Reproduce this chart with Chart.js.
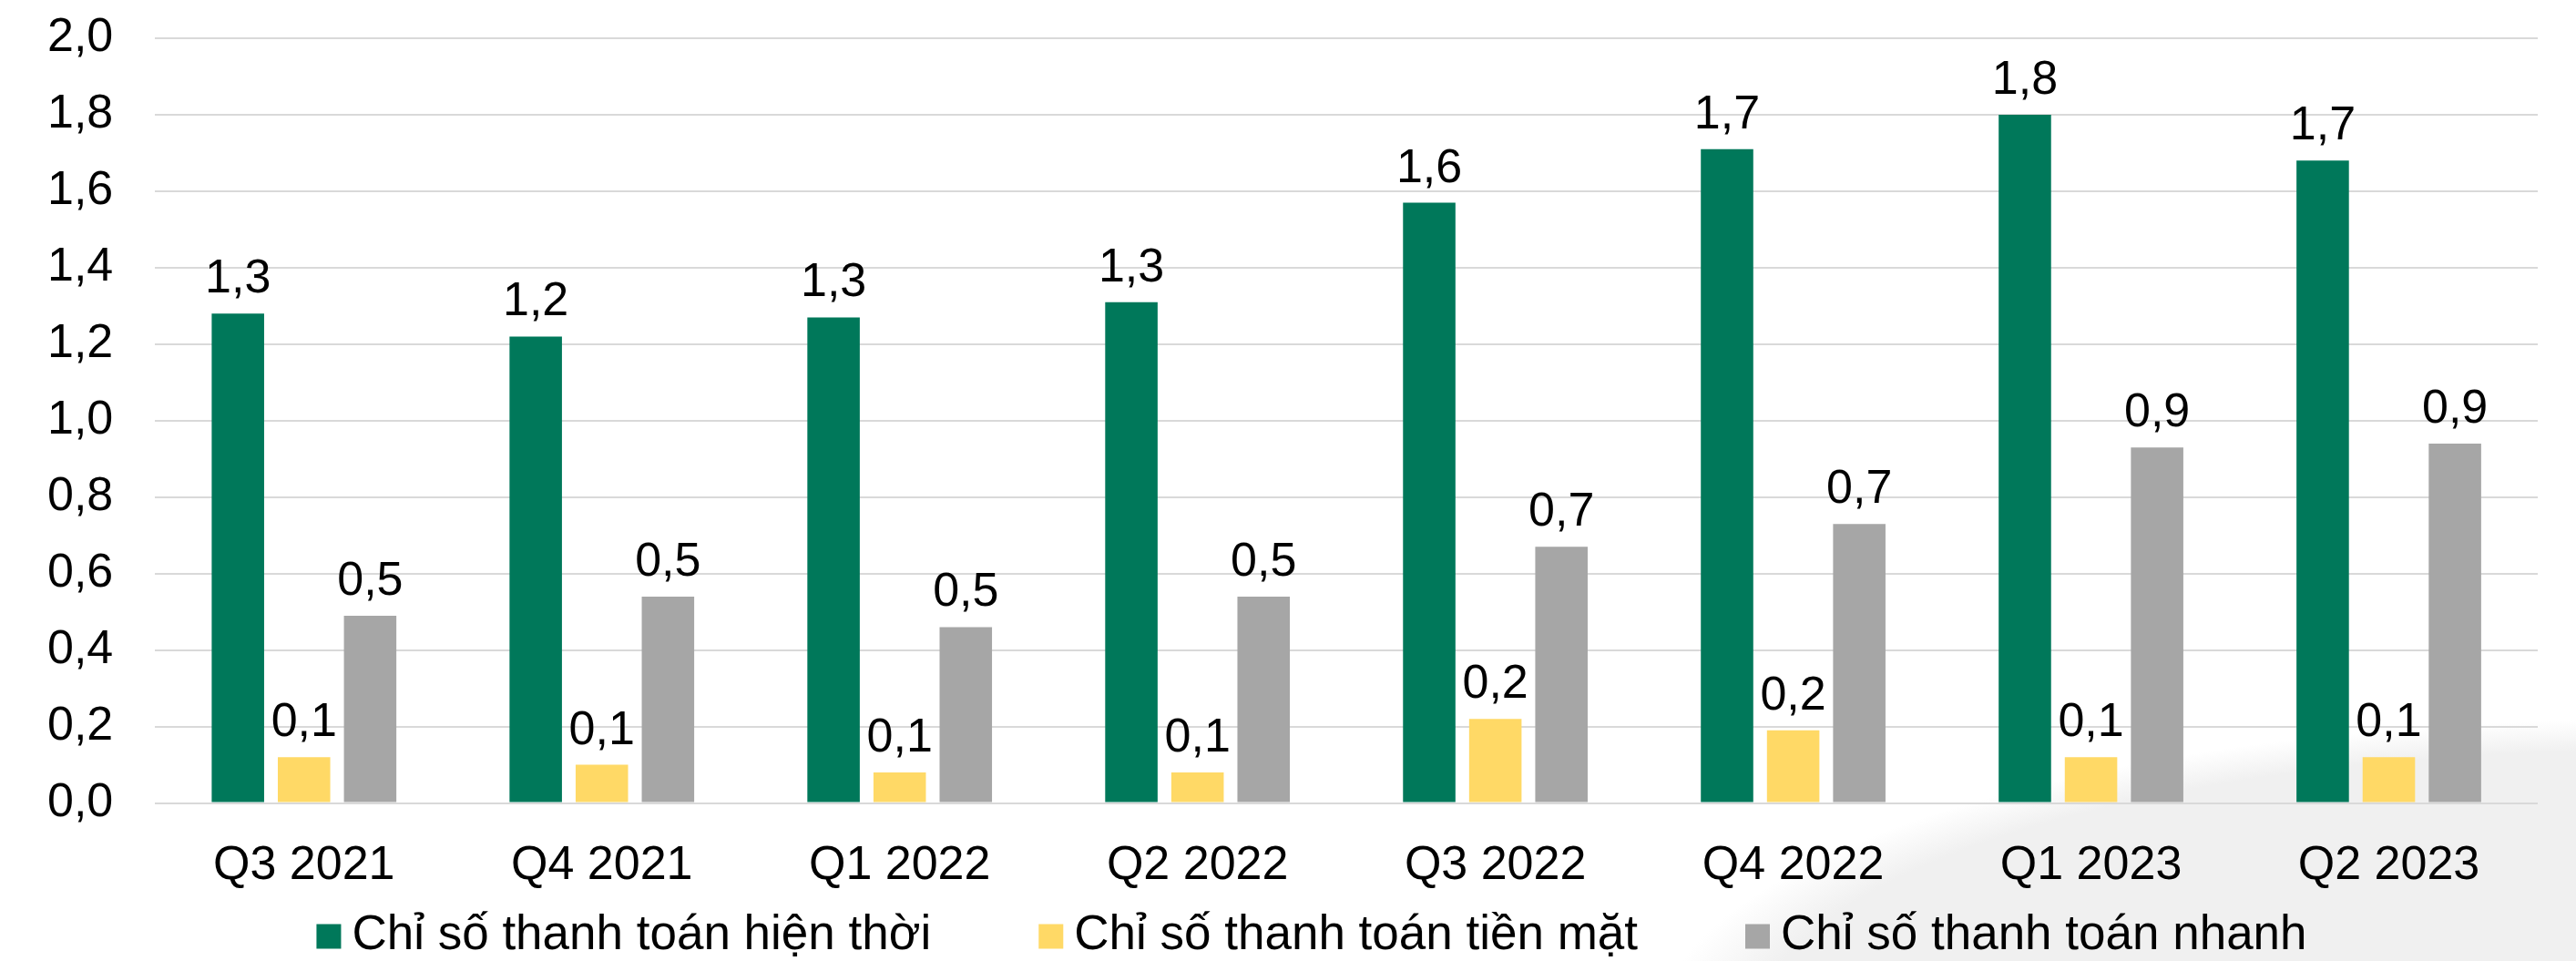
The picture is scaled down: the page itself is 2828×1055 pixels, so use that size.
<!DOCTYPE html>
<html>
<head>
<meta charset="utf-8">
<script src="https://cdn.jsdelivr.net/npm/chart.js@4.4.0/dist/chart.umd.min.js"></script>
<style>
    html, body { margin: 0; padding: 0; }
    body {
        width: 2828px;
        height: 1055px;
        overflow: hidden;
        background:
            radial-gradient(ellipse 1080px 340px at 2900px 1130px, #f0f0f0 0%, #f0f0f0 90%, rgba(255,255,255,0) 100%),
            #ffffff;
    }
    canvas { display: block; }
</style>
</head>
<body>
<canvas id="myChart" width="2828" height="1055"></canvas>
<script>
// dữ liệu
const quarters = ['Q3 2021', 'Q4 2021', 'Q1 2022', 'Q2 2022', 'Q3 2022', 'Q4 2022', 'Q1 2023', 'Q2 2023'];
const currentRatio = [1.28, 1.22, 1.27, 1.31, 1.57, 1.71, 1.80, 1.68];
const cashRatio = [0.12, 0.10, 0.08, 0.08, 0.22, 0.19, 0.12, 0.12];
const quickRatio = [0.49, 0.54, 0.46, 0.54, 0.67, 0.73, 0.93, 0.94];
const seriesNames = ['Chỉ số thanh toán hiện thời', 'Chỉ số thanh toán tiền mặt', 'Chỉ số thanh toán nhanh'];
const yTicks = [0, 0.2, 0.4, 0.6, 0.8, 1.0, 1.2, 1.4, 1.6, 1.8, 2.0];

const FONT = '"Liberation Sans", Arial, sans-serif';
const FONT_SIZE = 52;
const LEGEND_SIZE = 53;
const fmt = v => v.toFixed(1).replace('.', ',');

// nhãn giá trị trên mỗi cột
const valueLabels = {
    id: 'valueLabels',
    afterDatasetsDraw(chart) {
        const ctx = chart.ctx;
        ctx.save();
        ctx.font = FONT_SIZE + 'px ' + FONT;
        ctx.fillStyle = '#000000';
        ctx.textAlign = 'center';
        ctx.textBaseline = 'alphabetic';
        chart.data.datasets.forEach((ds, i) => {
            chart.getDatasetMeta(i).data.forEach((bar, j) => {
                ctx.fillText(fmt(ds.data[j]), bar.x, bar.y - 23);
            });
        });
        ctx.restore();
    }
};

// chú thích vẽ tay ở dưới cùng (khoảng cách giống hình gốc)
const bottomLegend = {
    id: 'bottomLegend',
    afterDraw(chart) {
        const ctx = chart.ctx;
        const box = 27, gap = 12, itemGap = 118;
        const y = 1028;
        ctx.save();
        ctx.font = LEGEND_SIZE + 'px ' + FONT;
        ctx.textBaseline = 'middle';
        ctx.textAlign = 'left';
        const items = chart.data.datasets.map(ds => ({
            text: ds.label,
            color: ds.backgroundColor,
            w: ctx.measureText(ds.label).width
        }));
        let total = 0;
        items.forEach((it, i) => {
            total += box + gap + it.w + (i > 0 ? itemGap : 0);
        });
        let x = chart.width / 2 + 26 - total / 2;
        items.forEach(it => {
            ctx.fillStyle = it.color;
            ctx.fillRect(x, y - box / 2, box, box);
            ctx.fillStyle = '#000000';
            ctx.fillText(it.text, x + box + gap, y - 1);
            x += box + gap + it.w + itemGap;
        });
        ctx.restore();
    }
};

const ctx = document.getElementById('myChart').getContext('2d');

const chartData = {
    labels: quarters,
    datasets: [
        { label: seriesNames[0], data: currentRatio, backgroundColor: '#00785A' },
        { label: seriesNames[1], data: cashRatio, backgroundColor: '#FFD966' },
        { label: seriesNames[2], data: quickRatio, backgroundColor: '#A6A6A6' }
    ]
};

const config = {
    type: 'bar',
    data: chartData,
    options: {
        responsive: false,
        animation: false,
        datasets: {
            bar: { categoryPercentage: 0.666, barPercentage: 0.793, borderWidth: 0 }
        },
        layout: { padding: { left: 6, right: 42, top: 42, bottom: 43 } },
        scales: {
            x: {
                grid: { display: false },
                border: { display: false },
                ticks: { color: '#000', font: { family: FONT, size: FONT_SIZE }, padding: 30, maxRotation: 0 }
            },
            y: {
                min: 0,
                max: 2,
                afterBuildTicks: scale => { scale.ticks = yTicks.map(v => ({ value: v })); },
                // bỏ phần đệm trên/dưới mà padding của nhãn thêm vào
                afterFit: scale => { scale.paddingTop = 0; scale.paddingBottom = 0; },
                grid: { color: '#D9D9D9', lineWidth: 2, drawTicks: false },
                border: { display: false },
                ticks: { color: '#000', font: { family: FONT, size: FONT_SIZE }, padding: 46, callback: v => fmt(v) }
            }
        },
        plugins: {
            legend: { display: false },
            tooltip: { enabled: false }
        }
    },
    plugins: [valueLabels, bottomLegend]
};

new Chart(ctx, config);
</script>
</body>
</html>
